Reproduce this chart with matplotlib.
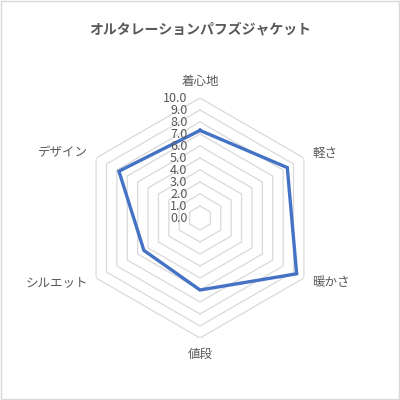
import numpy as np
import matplotlib
matplotlib.use("Agg")
import matplotlib.pyplot as plt
from matplotlib.patches import Rectangle

plt.rcParams['font.family'] = ['Noto Sans CJK JP', 'DejaVu Sans']

title = "オルタレーションパフズジャケット"
categories = ["着心地", "軽さ", "暖かさ", "値段", "シルエット", "デザイン"]
values = [7.3, 8.4, 9.3, 6.0, 5.4, 7.8]
levels = [0, 1, 2, 3, 4, 5, 6, 7, 8, 9, 10]
tick_labels = ["0.0", "1.0", "2.0", "3.0", "4.0", "5.0", "6.0", "7.0", "8.0", "9.0", "10.0"]

fig = plt.figure(figsize=(4, 4), dpi=100)
fig.patches.append(Rectangle((0.002, 0.002), 0.996, 0.996, transform=fig.transFigure,
                             fill=False, edgecolor='#D9D9D9', linewidth=1))

ax = fig.add_axes([0.2, 0.155, 0.6, 0.6], projection='polar')
ax.set_theta_zero_location('N')
ax.set_theta_direction(-1)
ax.set_ylim(0, 10)
ax.grid(False)
ax.spines['polar'].set_visible(False)
ax.set_xticks([])
ax.set_yticks([])
ax.patch.set_alpha(0)

n = len(categories)
angles = np.linspace(0, 2 * np.pi, n, endpoint=False)
closed = np.concatenate([angles, angles[:1]])

grid_c = '#D9D9D9'
for lv in levels[1:]:
    ax.plot(closed, [lv] * (n + 1), color=grid_c, linewidth=0.9, zorder=1)

vals = values + values[:1]
ax.plot(closed, vals, color='#4472C4', linewidth=2.4, zorder=3,
        solid_joinstyle='miter')

# radial tick labels along the top axis
for lv, lab in zip(levels, tick_labels):
    ax.annotate(lab, xy=(0, lv), xytext=(-9, 0), textcoords='offset points',
                ha='right', va='center', fontsize=9, color='#595959')

# category labels
for a, cat in zip(angles, categories):
    deg = np.degrees(a)
    if np.isclose(deg, 0) or np.isclose(deg, 180):
        ha = 'center'
    elif deg < 180:
        ha = 'left'
    else:
        ha = 'right'
    ax.text(a, 11.4 if ha == 'center' else 10.8, cat, ha=ha, va='center',
            fontsize=9, color='#595959')

fig.text(0.5, 0.925, title, ha='center', va='center', fontsize=10,
         fontweight='bold', color='#595959')

fig.savefig('out.png', dpi=100)
